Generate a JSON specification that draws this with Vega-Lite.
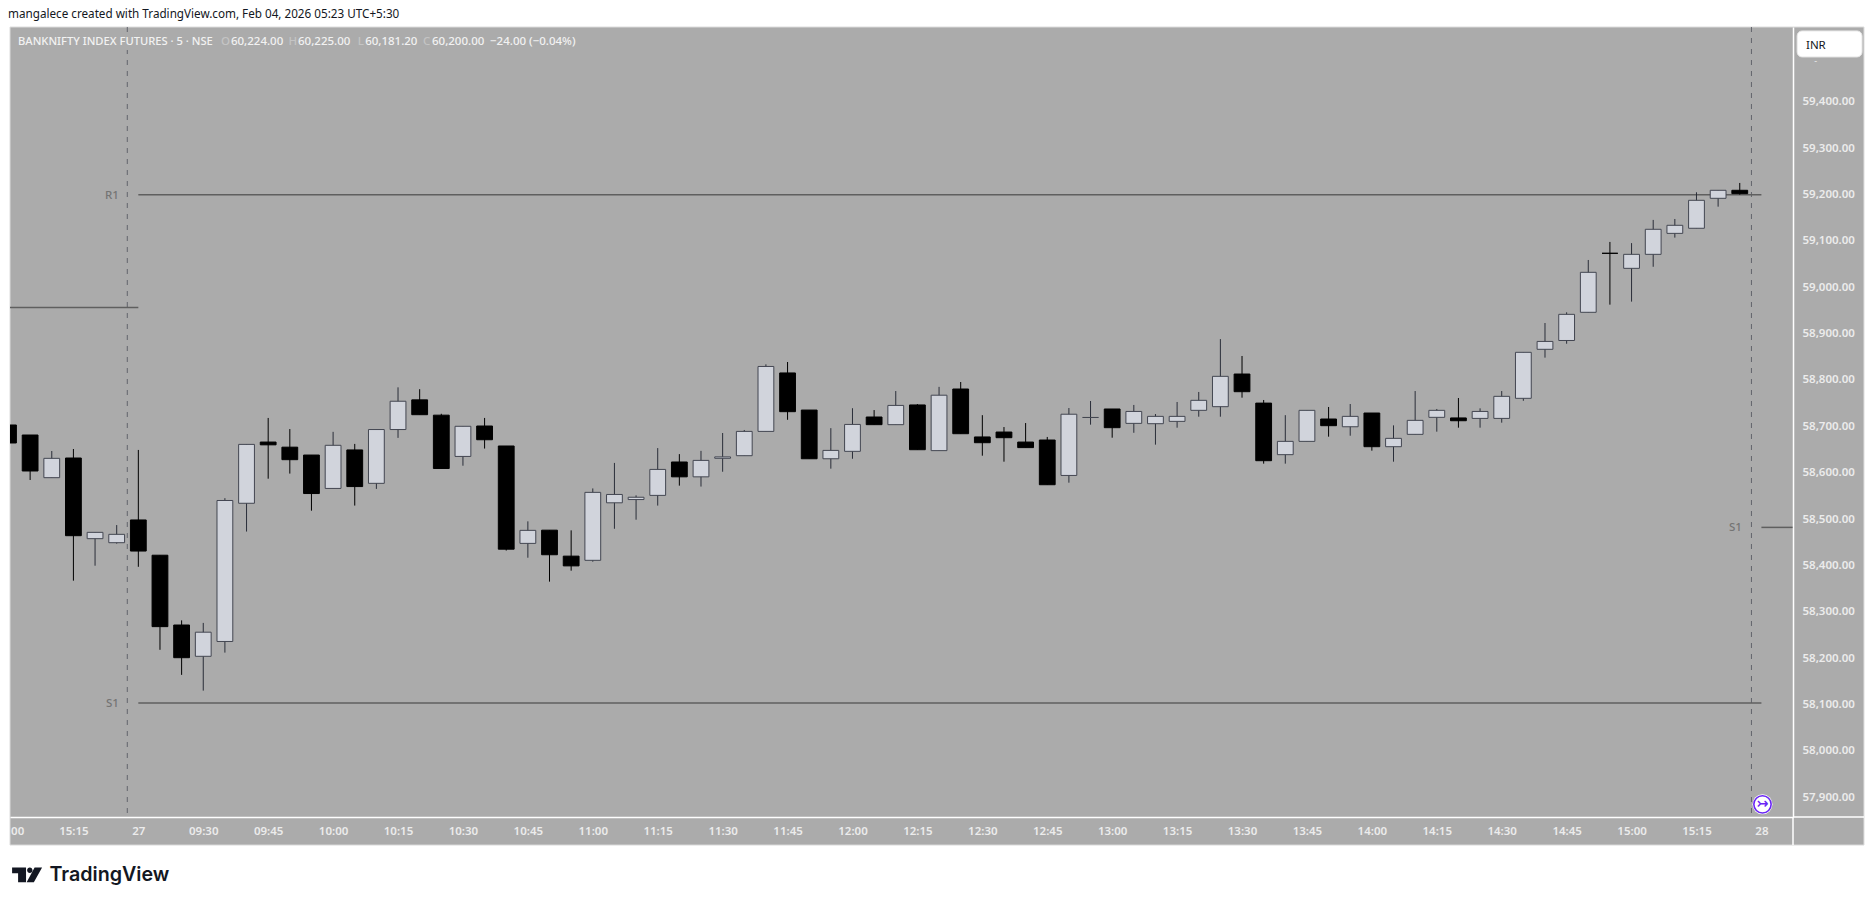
{
"$schema":"https://vega.github.io/schema/vega-lite/v6.json",
"width":1783,"height":790,"autosize":{"type":"none"},
"padding":{"left":10,"top":27,"right":82,"bottom":88},
"background":"#ffffff",
"view":{"stroke":null},
"title":{"text":"mangalece created with TradingView.com, Feb 04, 2026 05:23 UTC+5:30","anchor":"start","frame":"group","font":"Noto Sans","fontSize":11.7,"fontWeight":"normal","color":"#131722","offset":6,"dx":-2},
"datasets":{
"frame":[{"i":-5.93,"i2":79.74,"y":59561,"y2":57797}],
"legendbg":[{"i":-5.74,"i2":20.64,"y":59548,"y2":59511.5}],
"sessions":[{"i":-0.51,"y":59561,"y2":57866},{"i":74.54,"y":59561,"y2":57866}],
"levels":[
{"name":"P","i":-5.93,"i2":0,"y":58956},
{"name":"R1","i":0,"i2":75,"y":59199.5},
{"name":"S1","i":0,"i2":75,"y":58103.3},
{"name":"S1 next","i":75,"i2":76.46,"y":58482}],
"edges":[{"i":76.46,"i2":76.46,"y":57857.5,"y2":57797},{"i":76.46,"i2":79.74,"y":57857.5,"y2":57857.5}],
"candles":[
{"i":-6,"t":"26 15:00","o":58702.8,"h":58702.8,"l":58664,"c":58664,"dir":"down"},
{"i":-5,"t":"26 15:05","o":58681.2,"h":58681.2,"l":58584.2,"c":58603.6,"dir":"down"},
{"i":-4,"t":"26 15:10","o":58589.2,"h":58646.7,"l":58589,"c":58630.9,"dir":"up"},
{"i":-3,"t":"26 15:15","o":58631.6,"h":58651,"l":58367.1,"c":58464.1,"dir":"down"},
{"i":-2,"t":"26 15:20","o":58457.7,"h":58471.3,"l":58399.4,"c":58471.3,"dir":"up"},
{"i":-1,"t":"26 15:25","o":58449,"h":58487,"l":58447,"c":58467,"dir":"up"},
{"i":0,"t":"27 09:15","o":58498,"h":58649,"l":58397,"c":58431,"dir":"down"},
{"i":1,"t":"09:20","o":58422,"h":58422,"l":58218,"c":58268,"dir":"down"},
{"i":2,"t":"09:25","o":58271.5,"h":58281.5,"l":58164,"c":58201,"dir":"down"},
{"i":3,"t":"09:30","o":58204,"h":58276,"l":58130,"c":58256,"dir":"up"},
{"i":4,"t":"09:35","o":58236,"h":58545,"l":58212,"c":58540,"dir":"up"},
{"i":5,"t":"09:40","o":58534,"h":58661,"l":58473,"c":58661,"dir":"up"},
{"i":6,"t":"09:45","o":58666,"h":58718,"l":58587,"c":58660,"dir":"down"},
{"i":7,"t":"09:50","o":58655,"h":58694,"l":58598,"c":58628,"dir":"down"},
{"i":8,"t":"09:55","o":58638,"h":58638,"l":58518,"c":58555,"dir":"down"},
{"i":9,"t":"10:00","o":58566,"h":58688,"l":58566,"c":58659,"dir":"up"},
{"i":10,"t":"10:05","o":58649,"h":58662,"l":58529,"c":58570,"dir":"down"},
{"i":11,"t":"10:10","o":58577,"h":58693,"l":58565,"c":58693,"dir":"up"},
{"i":12,"t":"10:15","o":58693,"h":58784,"l":58675,"c":58754,"dir":"up"},
{"i":13,"t":"10:20","o":58757,"h":58780,"l":58725,"c":58725,"dir":"down"},
{"i":14,"t":"10:25","o":58724,"h":58727,"l":58609,"c":58609,"dir":"down"},
{"i":15,"t":"10:30","o":58635,"h":58700,"l":58615,"c":58700,"dir":"up"},
{"i":16,"t":"10:35","o":58700.6,"h":58718,"l":58652,"c":58671,"dir":"down"},
{"i":17,"t":"10:40","o":58657.5,"h":58657.5,"l":58432,"c":58435,"dir":"down"},
{"i":18,"t":"10:45","o":58447.5,"h":58495,"l":58416.6,"c":58475.6,"dir":"up"},
{"i":19,"t":"10:50","o":58476,"h":58476,"l":58365,"c":58423,"dir":"down"},
{"i":20,"t":"10:55","o":58420,"h":58475.6,"l":58388.6,"c":58399,"dir":"down"},
{"i":21,"t":"11:00","o":58411,"h":58566,"l":58408,"c":58557.5,"dir":"up"},
{"i":22,"t":"11:05","o":58535,"h":58621,"l":58479,"c":58553,"dir":"up"},
{"i":23,"t":"11:10","o":58542,"h":58551,"l":58498.6,"c":58547,"dir":"up"},
{"i":24,"t":"11:15","o":58551,"h":58653,"l":58529,"c":58607,"dir":"up"},
{"i":25,"t":"11:20","o":58623,"h":58640,"l":58572,"c":58591,"dir":"down"},
{"i":26,"t":"11:25","o":58591,"h":58647,"l":58570,"c":58626.5,"dir":"up"},
{"i":27,"t":"11:30","o":58631,"h":58685.5,"l":58602,"c":58634,"dir":"up"},
{"i":28,"t":"11:35","o":58636.6,"h":58692,"l":58636.6,"c":58689,"dir":"up"},
{"i":29,"t":"11:40","o":58689,"h":58833.6,"l":58689,"c":58829,"dir":"up"},
{"i":30,"t":"11:45","o":58815,"h":58838.6,"l":58714,"c":58731.5,"dir":"down"},
{"i":31,"t":"11:50","o":58735,"h":58735,"l":58630,"c":58630,"dir":"down"},
{"i":32,"t":"11:55","o":58630,"h":58696,"l":58608.6,"c":58648,"dir":"up"},
{"i":33,"t":"12:00","o":58646,"h":58739,"l":58630,"c":58704,"dir":"up"},
{"i":34,"t":"12:05","o":58720,"h":58735,"l":58703.5,"c":58703.5,"dir":"down"},
{"i":35,"t":"12:10","o":58703.5,"h":58776,"l":58703.5,"c":58745,"dir":"up"},
{"i":36,"t":"12:15","o":58746,"h":58748,"l":58649.5,"c":58649.5,"dir":"down"},
{"i":37,"t":"12:20","o":58647.5,"h":58785,"l":58647.5,"c":58767,"dir":"up"},
{"i":38,"t":"12:25","o":58780.4,"h":58795.5,"l":58684,"c":58684,"dir":"down"},
{"i":39,"t":"12:30","o":58677,"h":58724,"l":58636.6,"c":58664.6,"dir":"down"},
{"i":40,"t":"12:35","o":58687.6,"h":58698.4,"l":58623.7,"c":58675.4,"dir":"down"},
{"i":41,"t":"12:40","o":58666,"h":58707,"l":58654,"c":58654,"dir":"down"},
{"i":42,"t":"12:45","o":58670.4,"h":58677,"l":58574,"c":58574,"dir":"down"},
{"i":43,"t":"12:50","o":58594,"h":58739.4,"l":58578.4,"c":58726,"dir":"up"},
{"i":44,"t":"12:55","o":58719,"h":58754.5,"l":58703.5,"c":58719,"dir":"up"},
{"i":45,"t":"13:00","o":58737.3,"h":58737.3,"l":58675.4,"c":58697,"dir":"down"},
{"i":46,"t":"13:05","o":58706.3,"h":58746,"l":58686,"c":58732,"dir":"up"},
{"i":47,"t":"13:10","o":58705.6,"h":58726.5,"l":58660.4,"c":58721.4,"dir":"up"},
{"i":48,"t":"13:15","o":58710.6,"h":58752.4,"l":58697,"c":58721.4,"dir":"up"},
{"i":49,"t":"13:20","o":58734.4,"h":58774,"l":58720.7,"c":58756,"dir":"up"},
{"i":50,"t":"13:25","o":58742.3,"h":58888,"l":58720.7,"c":58807.7,"dir":"up"},
{"i":51,"t":"13:30","o":58812.7,"h":58851.6,"l":58761.7,"c":58774.6,"dir":"down"},
{"i":52,"t":"13:35","o":58750,"h":58756.7,"l":58619.4,"c":58625.8,"dir":"down"},
{"i":53,"t":"13:40","o":58638.8,"h":58724,"l":58619.4,"c":58667.5,"dir":"up"},
{"i":54,"t":"13:45","o":58667.5,"h":58734.4,"l":58667.5,"c":58734.4,"dir":"up"},
{"i":55,"t":"13:50","o":58715.7,"h":58741.6,"l":58677.6,"c":58701.3,"dir":"down"},
{"i":56,"t":"13:55","o":58699,"h":58748,"l":58679.7,"c":58721.4,"dir":"up"},
{"i":57,"t":"14:00","o":58728.6,"h":58728.6,"l":58647.4,"c":58656,"dir":"down"},
{"i":58,"t":"14:05","o":58656,"h":58702,"l":58623.7,"c":58674,"dir":"up"},
{"i":59,"t":"14:10","o":58682.6,"h":58776,"l":58682.6,"c":58712.8,"dir":"up"},
{"i":60,"t":"14:15","o":58719.3,"h":58737.3,"l":58688.4,"c":58734.4,"dir":"up"},
{"i":61,"t":"14:20","o":58718,"h":58761,"l":58697,"c":58712,"dir":"down"},
{"i":62,"t":"14:25","o":58717,"h":58738.7,"l":58697,"c":58732,"dir":"up"},
{"i":63,"t":"14:30","o":58717,"h":58776,"l":58707.8,"c":58764.6,"dir":"up"},
{"i":64,"t":"14:35","o":58760.3,"h":58859.5,"l":58755,"c":58859.5,"dir":"up"},
{"i":65,"t":"14:40","o":58866,"h":58922.7,"l":58848,"c":58883,"dir":"up"},
{"i":66,"t":"14:45","o":58885,"h":58945.8,"l":58878,"c":58941.4,"dir":"up"},
{"i":67,"t":"14:50","o":58945.8,"h":59058.6,"l":58945.8,"c":59032,"dir":"up"},
{"i":68,"t":"14:55","o":59073,"h":59097.5,"l":58962.3,"c":59073,"dir":"down"},
{"i":69,"t":"15:00","o":59040.6,"h":59095,"l":58968.8,"c":59070.8,"dir":"up"},
{"i":70,"t":"15:05","o":59070.8,"h":59145,"l":59044,"c":59124.8,"dir":"up"},
{"i":71,"t":"15:10","o":59116,"h":59147,"l":59106.8,"c":59133.4,"dir":"up"},
{"i":72,"t":"15:15","o":59127,"h":59204.6,"l":59127,"c":59187.3,"dir":"up"},
{"i":73,"t":"15:20","o":59191.6,"h":59208.9,"l":59173.6,"c":59208.9,"dir":"up"},
{"i":74,"t":"15:25","o":59208.9,"h":59224.7,"l":59199.5,"c":59201.7,"dir":"down"}],
"headname":[{"i":-5.56,"y":59528.5,"txt":"BANKNIFTY INDEX FUTURES · 5 · NSE"}],
"headkey":[
{"i":3.82,"y":59528.5,"txt":"O"},
{"i":6.94,"y":59528.5,"txt":"H"},
{"i":10.14,"y":59528.5,"txt":"L"},
{"i":13.15,"y":59528.5,"txt":"C"}],
"headval":[
{"i":4.28,"y":59528.5,"txt":"60,224.00"},
{"i":7.38,"y":59528.5,"txt":"60,225.00"},
{"i":10.48,"y":59528.5,"txt":"60,181.20"},
{"i":13.57,"y":59528.5,"txt":"60,200.00"},
{"i":16.25,"y":59528.5,"txt":"−24.00 (−0.04%)"}],
"pivots":[
{"i":-0.9,"y":59197.5,"txt":"R1"},
{"i":-0.9,"y":58101.5,"txt":"S1"},
{"i":74.1,"y":58480,"txt":"S1"}],
"button":[{"i":76.65,"i2":79.65,"y":59552.5,"y2":59496.4}],
"inr":[{"i":77.06,"y":59521,"txt":"INR"}],
"dash":[{"i":77.51,"y":59487.8,"txt":"-"}],
"icon":[{"i":75.05,"y":57884.8,"txt":"↣"}],
"brand":[{"i":-4.11,"y":57732,"txt":"TradingView"}],
"logo":[{"i":-5.14,"y":57732.8}]
},
"encoding":{
"x":{"field":"i","type":"quantitative","title":null,"scale":{"domain":[-5.93,76.46],"nice":false,"zero":false,"padding":0},
"axis":{"orient":"bottom","title":null,"grid":false,"ticks":false,"domainColor":"#ffffff","domainWidth":1.5,"zindex":1,"labelFont":"Noto Sans","labelFontSize":11.5,"labelFontWeight":600,"labelColor":"#ececec","labelPadding":14,"labelBaseline":"middle","labelOverlap":false,"labelFlush":false,"labelBound":false,
"values":[-5.6,-3,0,3,6,9,12,15,18,21,24,27,30,33,36,39,42,45,48,51,54,57,60,63,66,69,72,75],
"labelExpr":"{'-5.6':'00','-3':'15:15','0':'27','3':'09:30','6':'09:45','9':'10:00','12':'10:15','15':'10:30','18':'10:45','21':'11:00','24':'11:15','27':'11:30','30':'11:45','33':'12:00','36':'12:15','39':'12:30','42':'12:45','45':'13:00','48':'13:15','51':'13:30','54':'13:45','57':'14:00','60':'14:15','63':'14:30','66':'14:45','69':'15:00','72':'15:15','75':'28'}[datum.value]"}},
"y":{"field":"y","type":"quantitative","title":null,"scale":{"domain":[57857.5,59561],"nice":false,"zero":false},
"axis":{"orient":"right","title":null,"grid":false,"ticks":false,"domainColor":"#ffffff","domainWidth":1.5,"zindex":1,"format":",.2f","labelFont":"Noto Sans","labelFontSize":11.5,"labelFontWeight":600,"labelColor":"#ececec","labelPadding":9,"labelBaseline":"middle","labelOverlap":false,"labelFlush":false,"labelBound":false,
"values":[57900,58000,58100,58200,58300,58400,58500,58600,58700,58800,58900,59000,59100,59200,59300,59400]}}
},
"layer":[
{"data":{"name":"frame"},"mark":{"type":"rect","fill":"#ababab","stroke":"#dcdcdc","strokeWidth":1,"clip":false},
 "encoding":{"x2":{"field":"i2"},"y2":{"field":"y2"}}},
{"data":{"name":"sessions"},"mark":{"type":"rule","color":"#62646c","strokeWidth":1,"strokeDash":[5,6]},"encoding":{"y2":{"field":"y2"}}},
{"data":{"name":"legendbg"},"mark":{"type":"rect","fill":"#ababab","clip":false},"encoding":{"x2":{"field":"i2"},"y2":{"field":"y2"}}},
{"data":{"name":"levels"},"mark":{"type":"rule","color":"#5f5f5f","strokeWidth":1.5},"encoding":{"x2":{"field":"i2"}}},
{"data":{"name":"edges"},"mark":{"type":"rule","color":"#ffffff","strokeWidth":1.5,"clip":false},"encoding":{"x2":{"field":"i2"},"y2":{"field":"y2"}}},
{"data":{"name":"candles"},"mark":{"type":"rule","strokeWidth":1,"clip":true},
 "encoding":{"y":{"field":"l","type":"quantitative","title":null,"scale":{"domain":[57857.5,59561],"nice":false,"zero":false}},"y2":{"field":"h"},
  "color":{"field":"dir","type":"nominal","legend":null,"scale":{"domain":["up","down"],"range":["#2a2e39","#000000"]}}}},
{"data":{"name":"candles"},"mark":{"type":"bar","size":15.8,"strokeWidth":1,"clip":true},
 "encoding":{"y":{"field":"o","type":"quantitative","title":null,"scale":{"domain":[57857.5,59561],"nice":false,"zero":false}},"y2":{"field":"c"},
  "fill":{"field":"dir","type":"nominal","legend":null,"scale":{"domain":["up","down"],"range":["#d1d4dc","#000000"]}},
  "stroke":{"field":"dir","type":"nominal","legend":null,"scale":{"domain":["up","down"],"range":["#434651","#000000"]}}}},
{"data":{"name":"headname"},"mark":{"type":"text","align":"left","baseline":"middle","font":"Noto Sans","fontSize":11.2,"fontWeight":500,"color":"#f2f2f2","clip":false},"encoding":{"text":{"field":"txt"}}},
{"data":{"name":"headkey"},"mark":{"type":"text","align":"left","baseline":"middle","font":"Noto Sans","fontSize":11.5,"fontWeight":500,"color":"#c4c4c4","clip":false},"encoding":{"text":{"field":"txt"}}},
{"data":{"name":"headval"},"mark":{"type":"text","align":"left","baseline":"middle","font":"Noto Sans","fontSize":11.5,"fontWeight":500,"color":"#f2f2f2","clip":false},"encoding":{"text":{"field":"txt"}}},
{"data":{"name":"pivots"},"mark":{"type":"text","align":"right","baseline":"middle","font":"Noto Sans","fontSize":11.5,"fontWeight":500,"color":"#747474"},"encoding":{"text":{"field":"txt"}}},
{"data":{"name":"button"},"mark":{"type":"rect","fill":"#ffffff","stroke":"#e6e6e6","cornerRadius":5,"clip":false},"encoding":{"x2":{"field":"i2"},"y2":{"field":"y2"}}},
{"data":{"name":"inr"},"mark":{"type":"text","align":"left","baseline":"middle","font":"Noto Sans","fontSize":11.5,"color":"#131722","clip":false},"encoding":{"text":{"field":"txt"}}},
{"data":{"name":"dash"},"mark":{"type":"text","align":"center","baseline":"middle","font":"Noto Sans","fontSize":9,"color":"#ececec","clip":false},"encoding":{"text":{"field":"txt"}}},
{"data":{"name":"icon"},"mark":{"type":"point","filled":true,"shape":"circle","size":400,"color":"#ffffff","opacity":1,"clip":false}},
{"data":{"name":"icon"},"mark":{"type":"point","filled":false,"shape":"circle","size":300,"color":"#6a26f5","strokeWidth":1.6,"opacity":1,"clip":false}},
{"data":{"name":"icon"},"mark":{"type":"text","align":"center","baseline":"middle","font":"DejaVu Sans","fontSize":14,"fontWeight":"bold","color":"#6a26f5","clip":false},"encoding":{"text":{"field":"txt"}}},
{"data":{"name":"brand"},"mark":{"type":"text","align":"left","baseline":"middle","font":"Inter","fontSize":19.7,"fontWeight":600,"color":"#131722","clip":false},"encoding":{"text":{"field":"txt"}}},
{"data":{"name":"logo"},"mark":{"type":"point","filled":true,"opacity":1,"size":900,"color":"#131722","clip":false,"shape":"M-1,-0.49 L-0.07,-0.49 L-0.07,0.49 L-0.6,0.49 L-0.6,-0.11 L-1,-0.11 Z M0.36,-0.31 A0.18,0.18 0 1 1 0,-0.31 A0.18,0.18 0 1 1 0.36,-0.31 Z M0.5,-0.49 L1,-0.49 L0.45,0.49 L-0.03,0.49 Z"}}
]
}
